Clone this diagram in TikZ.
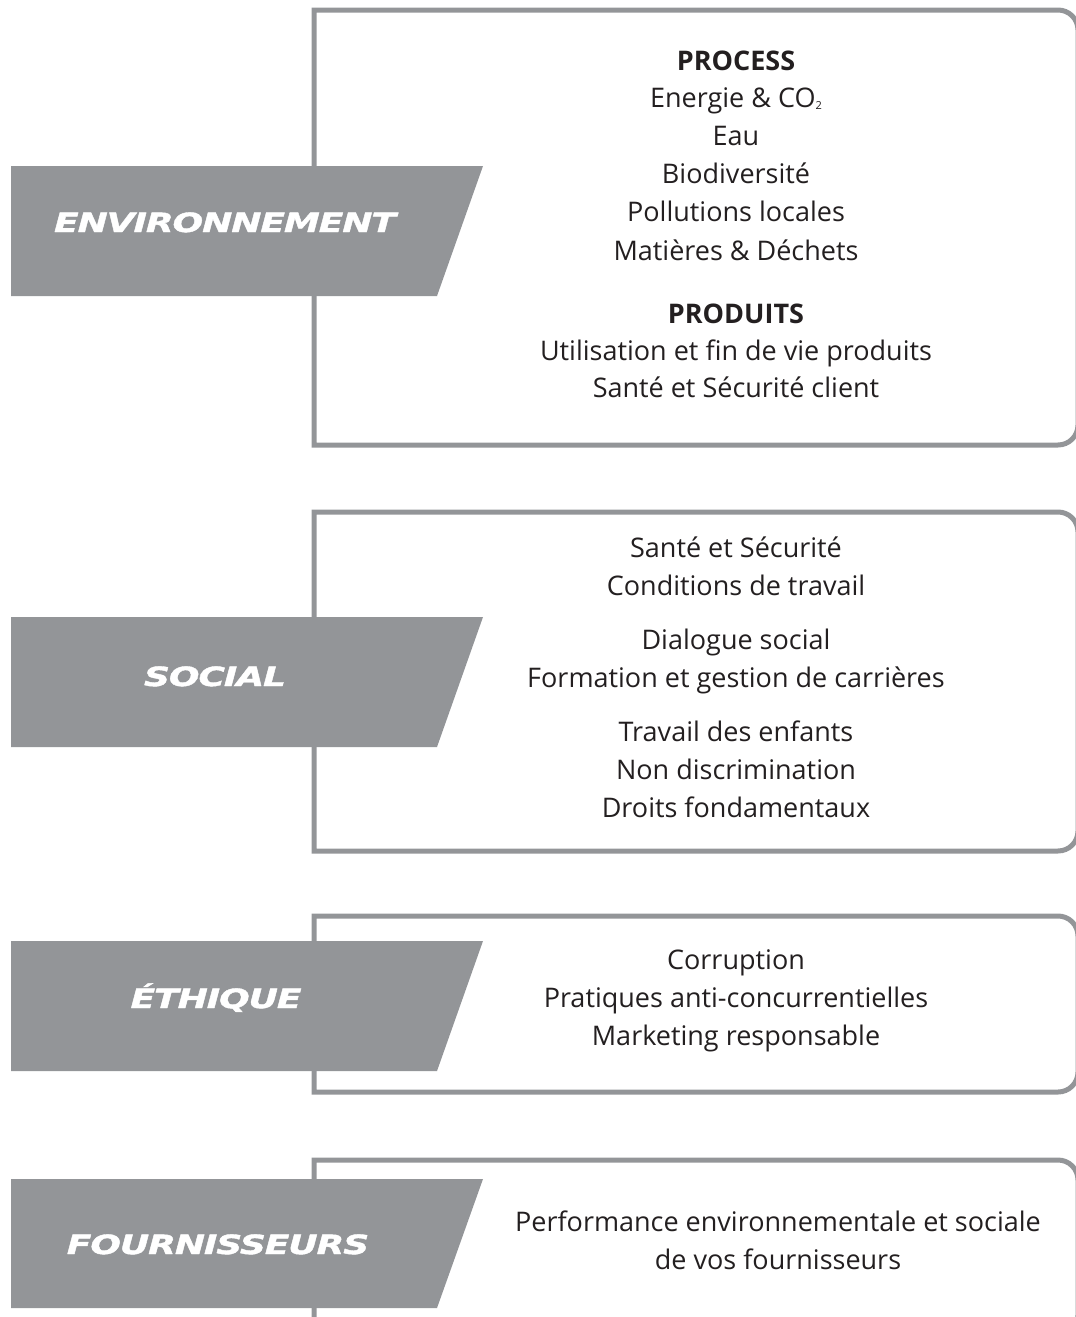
\documentclass[tikz,border=0pt]{standalone}
\usepackage{fontspec}
\setmainfont{Open Sans}
\newfontfamily\headfont[FakeStretch=1.36,FakeBold=1.6,LetterSpace=-4]{DejaVu Sans}
\definecolor{boxgray}{HTML}{939598}
\definecolor{txt}{HTML}{231F20}
\begin{document}
\begin{tikzpicture}[x=1pt,y=-1pt,
  boxline/.style={draw=boxgray,line width=5pt},
  tag/.style={fill=boxgray},
  item/.style={anchor=base,inner sep=0pt,text=txt,font=\fontsize{27}{33}\selectfont},
  itemb/.style={item,font=\fontsize{27}{33}\selectfont\bfseries},
  head/.style={anchor=base,inner sep=0pt,text=white,font=\headfont\fontsize{26.5}{30}\selectfont\bfseries\itshape}]
\useasboundingbox (0,0) rectangle (1076,1317);
\clip (0,0) rectangle (1076,1317);

% ---------- boxes ----------
\draw[boxline] (314,445) -- (314,10) -- (700,10) [rounded corners=20pt] -- (1078,10) -- (1078,445) -- (700,445) [sharp corners] -- cycle;
\draw[boxline] (314,851) -- (314,512) -- (700,512) [rounded corners=20pt] -- (1078,512) -- (1078,851) -- (700,851) [sharp corners] -- cycle;
\draw[boxline] (314,1092) -- (314,916) -- (700,916) [rounded corners=20pt] -- (1078,916) -- (1078,1092) -- (700,1092) [sharp corners] -- cycle;
\draw[boxline] (314,1335) -- (314,1160) -- (700,1160) [rounded corners=20pt] -- (1078,1160) -- (1078,1335) -- (700,1335) [sharp corners] -- cycle;

% ---------- tags ----------
\fill[tag] (11,166) -- (483,166) -- (437,296) -- (11,296) -- cycle;
\fill[tag] (11,617) -- (483,617) -- (437,747) -- (11,747) -- cycle;
\fill[tag] (11,941) -- (483,941) -- (437,1071) -- (11,1071) -- cycle;
\fill[tag] (11,1179) -- (483,1179) -- (437,1308) -- (11,1308) -- cycle;

\node[head] (h1) at (225,232) {ENVIRONNEMENT};
\node[head] (h2) at (215,686) {SOCIAL};
\node[head] (h3) at (216,1008) {ÉTHIQUE};
\node[head] (h4) at (218,1254) {FOURNISSEURS};

% ---------- box 1 ----------
\node[itemb] (a1) at (736,70) {PROCESS};
\node[item] (a2) at (736,107) {Energie \& CO{\fontsize{11}{11}\selectfont\raisebox{-2pt}{2}}};
\node[item] (a3) at (736,145) {Eau};
\node[item] (a4) at (736,183) {Biodiversité};
\node[item] (a5) at (736,221) {Pollutions locales};
\node[item] (a6) at (736,260) {Matières \& Déchets};
\node[itemb] (a7) at (736,323) {PRODUITS};
\node[item] (a8) at (736,360) {Utilisation et fin de vie produits};
\node[item] (a9) at (736,397) {Santé et Sécurité client};

% ---------- box 2 ----------
\node[item] (b1) at (736,557) {Santé et Sécurité};
\node[item] (b2) at (736,595) {Conditions de travail};
\node[item] (b3) at (736,649) {Dialogue social};
\node[item] (b4) at (736,687) {Formation et gestion de carrières};
\node[item] (b5) at (736,741) {Travail des enfants};
\node[item] (b6) at (736,779) {Non discrimination};
\node[item] (b7) at (736,817) {Droits fondamentaux};

% ---------- box 3 ----------
\node[item] (c1) at (736,969) {Corruption};
\node[item] (c2) at (736,1007) {Pratiques anti-concurrentielles};
\node[item] (c3) at (736,1045) {Marketing responsable};

% ---------- box 4 ----------
\node[item] (d1) at (778,1231) {Performance environnementale et sociale};
\node[item] (d2) at (778,1269) {de vos fournisseurs};
\end{tikzpicture}
\end{document}
